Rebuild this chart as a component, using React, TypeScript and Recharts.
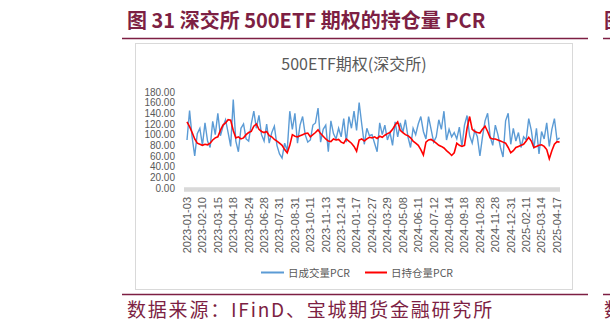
import React from 'react';
import { LineChart, Line, XAxis, YAxis } from 'recharts';

const tickLabels = [
  '2023-01-03', '2023-02-10', '2023-03-15', '2023-04-18', '2023-05-24', '2023-06-28',
  '2023-07-31', '2023-08-31', '2023-10-11', '2023-11-13', '2023-12-14', '2024-01-17',
  '2024-02-27', '2024-03-29', '2024-05-08', '2024-06-11', '2024-07-12', '2024-08-14',
  '2024-09-18', '2024-10-28', '2024-11-28', '2024-12-31', '2025-02-11', '2025-03-14',
  '2025-04-17',
];

// 日成交量PCR (sampled ~every 4 trading days)
const volumePCR = [
  90, 145, 95, 60, 102, 112, 80, 122, 88, 76, 125, 100, 140, 98, 115, 128, 104, 78, 166, 88, 68, 112, 120, 92,
  88, 120, 144, 112, 136, 100, 88, 120, 84, 104, 116, 80, 64, 56, 84, 70, 144, 110, 140, 84, 118, 134, 100, 86,
  90, 118, 122, 150, 86, 110, 118, 68, 126, 102, 92, 112, 96, 130, 86, 134, 112, 144, 108, 160, 120, 82, 112, 98,
  100, 84, 68, 122, 100, 118, 90, 104, 80, 124, 96, 122, 104, 128, 96, 76, 112, 100, 120, 134, 106, 92, 134, 110, 86,
  96, 128, 110, 144, 90, 110, 96, 104, 92, 114, 78, 118, 136, 98, 84, 108, 96, 60, 96, 126, 140, 96, 80, 118,
  100, 76, 58, 126, 140, 82, 112, 88, 104, 76, 96, 90, 130, 108, 74, 112, 64, 106, 92, 122, 78, 110, 130, 90, 94,
];

// 日持仓量PCR
const positionPCR = [
  124, 115, 104, 92, 84, 82, 80, 82, 81, 84, 90, 94, 96, 108, 118, 122, 128, 127, 108, 94, 96, 92, 94, 100,
  104, 106, 116, 120, 110, 106, 104, 106, 98, 96, 91, 88, 84, 80, 72, 66, 80, 100, 97, 96, 98, 100, 102, 103,
  96, 100, 104, 109, 102, 97, 92, 88, 87, 92, 90, 91, 86, 84, 92, 88, 84, 78, 69, 90, 92, 88, 92, 95,
  94, 96, 93, 97, 95, 99, 102, 104, 110, 118, 124, 108, 104, 100, 98, 94, 88, 84, 80, 72, 62, 86, 90, 91, 88,
  84, 80, 78, 75, 70, 66, 61, 66, 84, 80, 78, 80, 112, 134, 110, 106, 104, 103, 110, 116, 106, 94, 92, 92,
  90, 88, 86, 84, 76, 66, 70, 76, 78, 80, 82, 88, 95, 88, 76, 78, 80, 81, 78, 72, 55, 70, 82, 87, 86,
];

const yTicks = [0, 20, 40, 60, 80, 100, 120, 140, 160, 180];
const POINTS_PER_TICK = 6;

const data = volumePCR.map((v, i) => ({ k: i, vol: v, pos: positionPCR[i] }));
const xTicks = tickLabels.map((_, i) => i * POINTS_PER_TICK);

const MAROON = '#7d1f43';
const GRAY = '#595959';

const XTick = (props: any) => {
  const { x, y, payload } = props;
  const label = tickLabels[Math.round(payload.value / POINTS_PER_TICK)];
  return (
    <text
      x={x}
      y={y}
      transform={`rotate(-90 ${x} ${y})`}
      textAnchor="end"
      dy="0.35em"
      fill={GRAY}
      fontSize={11}
      fontFamily="'Liberation Sans', Arial, sans-serif"
    >
      {label}
    </text>
  );
};

export default function App() {
  return (
    <div style={{ position: 'absolute', left: 0, top: 0, width: 610, height: 331, overflow: 'hidden', background: '#fff' }}>
      <svg width={610} height={331} style={{ position: 'absolute', left: 0, top: 0 }}>
        <text x={127} y={28} fontSize={20} fontWeight={700} fill={MAROON} fontFamily="'Noto Sans CJK SC', sans-serif">
          图 31 深交所 500ETF 期权的持仓量 PCR
        </text>
        <text x={604} y={28} fontSize={20} fontWeight={700} fill={MAROON} fontFamily="'Noto Sans CJK SC', sans-serif">图</text>
        <line x1={122} x2={588} y1={38.5} y2={38.5} stroke={MAROON} strokeWidth={1.5} />
        <line x1={603} x2={610} y1={38.5} y2={38.5} stroke={MAROON} strokeWidth={1.5} />
        <rect x={135.5} y={43.5} width={437} height={246} fill="#fff" stroke="#d9d9d9" strokeWidth={1} />
        <text x={354} y={70} textAnchor="middle" fontSize={16} fill={GRAY} fontFamily="'Noto Sans CJK SC', sans-serif">
          500ETF期权(深交所)
        </text>
        <line x1={261} x2={284} y1={272.5} y2={272.5} stroke="#5B9BD5" strokeWidth={2} />
        <text x={288} y={276.5} fontSize={10.5} fill={GRAY} fontFamily="'Noto Sans CJK SC', sans-serif">日成交量PCR</text>
        <line x1={365} x2={387} y1={272.5} y2={272.5} stroke="#FF0000" strokeWidth={2} />
        <text x={391} y={276.5} fontSize={10.5} fill={GRAY} fontFamily="'Noto Sans CJK SC', sans-serif">日持仓量PCR</text>
        <line x1={122} x2={588} y1={294.5} y2={294.5} stroke={MAROON} strokeWidth={1.5} />
        <line x1={603} x2={610} y1={294.5} y2={294.5} stroke={MAROON} strokeWidth={1.5} />
        <text x={127} y={317} fontSize={19} letterSpacing={1.8} fill={MAROON} fontFamily="'Noto Sans CJK SC', sans-serif">
          数据来源：IFinD、宝城期货金融研究所
        </text>
        <text x={604} y={317} fontSize={19} fill={MAROON} fontFamily="'Noto Sans CJK SC', sans-serif">数</text>
      </svg>
      <div style={{ position: 'absolute', left: 135, top: 43 }}>
        <LineChart width={438} height={247} data={data} margin={{ top: 49, right: 13, bottom: 42, left: 0 }}>
          <XAxis
            dataKey="k"
            type="number"
            domain={[-1.17, 145.17]}
            ticks={xTicks}
            interval={0}
            allowDataOverflow
            height={60}
            tickLine={false}
            tickMargin={3}
            axisLine={{ stroke: '#d9d9d9', strokeWidth: 4.5, transform: 'translate(0,1.5)' }}
            tick={<XTick />}
          />
          <YAxis
            width={49}
            domain={[0, 180]}
            ticks={yTicks}
            interval={0}
            axisLine={false}
            tickLine={false}
            tickMargin={3}
            tickFormatter={(v: number) => v.toFixed(2)}
            tick={{ fill: GRAY, fontSize: 10, fontFamily: "'Liberation Sans', Arial, sans-serif" }}
          />
          <Line type="linear" dataKey="vol" stroke="#5B9BD5" strokeWidth={1.4} dot={false} isAnimationActive={false} />
          <Line type="linear" dataKey="pos" stroke="#FF0000" strokeWidth={1.6} dot={false} isAnimationActive={false} />
        </LineChart>
      </div>
    </div>
  );
}
